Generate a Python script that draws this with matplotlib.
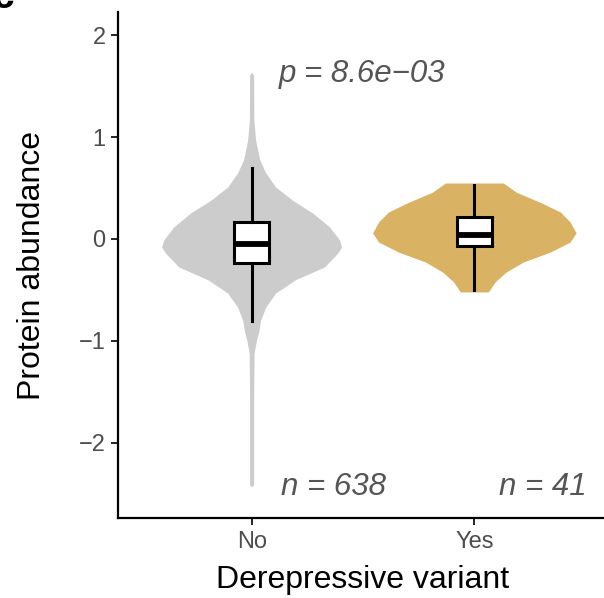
import matplotlib
matplotlib.use("Agg")
import matplotlib.pyplot as plt
import numpy as np

plt.rcParams['font.family'] = ['Liberation Sans', 'DejaVu Sans']

# ---- data ----
categories = ["No", "Yes"]
colors = ["#CCCCCC", "#D9B263"]

# violin outlines: y value and half-width (in category-axis units)
no_y = [1.64, 1.61, 1.17, 0.97, 0.78, 0.65, 0.51, 0.38, 0.255, 0.118, -0.01, -0.08,
        -0.14, -0.275, -0.40, -0.53, -0.67, -0.80, -0.92, -0.99, -1.12, -1.58, -2.42, -2.43]
no_w = [0.0, 0.009, 0.010, 0.018, 0.036, 0.063, 0.108, 0.184, 0.274, 0.350, 0.395, 0.404,
        0.386, 0.327, 0.197, 0.108, 0.063, 0.040, 0.031, 0.022, 0.011, 0.009, 0.009, 0.0]
yes_y = [0.55, 0.46, 0.36, 0.265, 0.167, 0.06, -0.03, -0.128, -0.226, -0.324, -0.42, -0.52]
yes_w = [0.130, 0.188, 0.296, 0.386, 0.430, 0.457, 0.430, 0.341, 0.220, 0.143, 0.094, 0.063]

# box statistics
box_med = [-0.052, 0.04]
box_q1 = [-0.233, -0.066]
box_q3 = [0.17, 0.22]
whisk_lo = [-0.81, -0.50]
whisk_hi = [0.70, 0.53]

n_labels = ["n = 638", "n = 41"]
p_label = "p = 8.6e\u221203"

yticks = [-2, -1, 0, 1, 2]
ytick_labels = ["\u22122", "\u22121", "0", "1", "2"]

# ---- figure ----
fig = plt.figure(figsize=(6.04, 5.98), dpi=100)
ax = fig.add_axes([118 / 604, 80 / 598, 490 / 604, 506 / 598])

positions = [1, 2]
violins = [(no_y, no_w), (yes_y, yes_w)]
for pos, (vy, vw), col in zip(positions, violins, colors):
    vy = np.array(vy)
    vw = np.array(vw)
    ax.fill_betweenx(vy, pos - vw, pos + vw, color=col, lw=0, zorder=1)

stats = []
for i in range(2):
    stats.append(dict(med=box_med[i], q1=box_q1[i], q3=box_q3[i],
                      whislo=whisk_lo[i], whishi=whisk_hi[i], fliers=[]))
ax.bxp(stats, positions=positions, widths=0.157, showcaps=False, showfliers=False,
       patch_artist=True,
       boxprops=dict(facecolor="white", edgecolor="black", linewidth=2.2),
       whiskerprops=dict(color="black", linewidth=2.2),
       medianprops=dict(color="black", linewidth=4.2, solid_capstyle="butt"),
       zorder=3)

txt_kw = dict(fontsize=22.5, style="italic", color="#555555", ha="left", va="center")
ax.text(1.12, 1.62, p_label, **txt_kw)
ax.text(1.13, -2.44, n_labels[0], **txt_kw)
ax.text(2.11, -2.44, n_labels[1], **txt_kw)

ax.set_xlim(0.4, 2.6)
ax.set_ylim(-2.741, 2.230)
ax.set_xticks(positions)
ax.set_xticklabels(categories)
ax.set_yticks(yticks)
ax.set_yticklabels(ytick_labels)
ax.tick_params(axis="both", labelsize=17, labelcolor="#4D4D4D", color="black",
               width=1.2, length=5, direction="out", pad=4)
for s in ["top", "right"]:
    ax.spines[s].set_visible(False)
for s in ["left", "bottom"]:
    ax.spines[s].set_linewidth(1.6)
    ax.spines[s].set_color("black")

ax.set_xlabel("Derepressive variant", fontsize=23, color="black", labelpad=9)
ax.set_ylabel("Protein abundance", fontsize=23, color="black", labelpad=23)

fig.text(-0.012, 1 - 8 / 598, "c", fontsize=28, fontweight="bold", ha="left",
         va="baseline", color="black")

fig.savefig("out.png", dpi=100)
